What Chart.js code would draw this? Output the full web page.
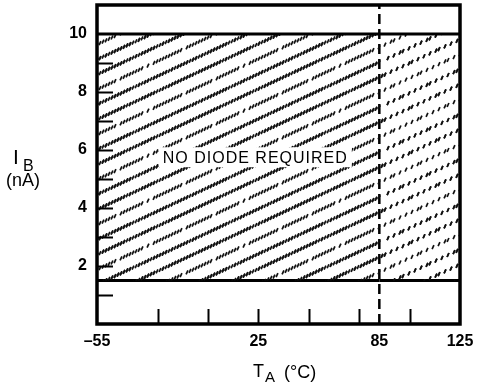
<!DOCTYPE html>
<html>
<head>
<meta charset="utf-8">
<script src="https://cdn.jsdelivr.net/npm/chart.js@4.4.1/dist/chart.umd.min.js"></script>
<style>
  html, body { margin: 0; padding: 0; background: #fff; }
  canvas { display: block; }
</style>
</head>
<body>
<canvas id="chart" width="477" height="387"></canvas>
<script>
// Ambient temperature span of the region (°C)
const tempSpan = [-55, 125];
// Temperature of the dashed boundary (°C)
const boundaryTemp = 85;
// Bias-current limits of the "no diode required" region (nA)
const biasUpper = 10;
const biasLower = 1.5;
// Axis ranges
const xRange = [-55, 125];
const yRange = [0, 11];
// Labelled ticks
const xTickLabels = [-55, 25, 85, 125];
const yTickLabels = [2, 4, 6, 8, 10];
// Unlabelled tick marks
const xMinorTicks = [-25, 0, 25, 50, 75, 100];
const yMinorTicks = [1, 2, 3, 4, 5, 6, 7, 8, 9];

const FONT = '"Liberation Sans", Arial, Helvetica, sans-serif';

// Diagonal hatch made of short slanted strokes laid along rising rows
function makeHatch(skip) {
  const W = 96, H = 45, rowGap = 15;
  const c = document.createElement('canvas');
  c.width = W; c.height = H;
  const g = c.getContext('2d');
  g.strokeStyle = '#111';
  g.lineWidth = 1.7;
  for (let k = -2; k <= 2; k++) {
    for (let i = 0; i < 32; i++) {
      if (skip(i, k)) continue;
      const x = i * 3 + 1;
      const y = H - x * H / W + k * rowGap;
      for (const dx of [-W, 0, W]) {
        for (const dy of [-H, 0, H]) {
          g.beginPath();
          g.moveTo(x + dx - 0.9, y + dy + 2.0);
          g.lineTo(x + dx + 0.9, y + dy - 2.0);
          g.stroke();
        }
      }
    }
  }
  return g.createPattern(c, 'repeat');
}

const hatchDense = makeHatch((i, k) => ((i + 3 * k + 20) % 11) === 5 || ((i * 7 + k * 5 + 40) % 19) === 0);
const hatchSparse = makeHatch((i, k) => ((i * 5 + k * 3 + 30) % 9) >= 5);

const edge = { borderColor: '#000', borderWidth: 3, pointRadius: 0, tension: 0 };

const datasets = [
  { ...edge, data: [{ x: tempSpan[0], y: biasUpper }, { x: boundaryTemp, y: biasUpper }], fill: '+1', backgroundColor: hatchDense },
  { ...edge, data: [{ x: tempSpan[0], y: biasLower }, { x: boundaryTemp, y: biasLower }], fill: false },
  { ...edge, data: [{ x: boundaryTemp, y: biasUpper }, { x: tempSpan[1], y: biasUpper }], fill: '+1', backgroundColor: hatchSparse },
  { ...edge, data: [{ x: boundaryTemp, y: biasLower }, { x: tempSpan[1], y: biasLower }], fill: false },
  { borderColor: '#000', borderWidth: 2.5, borderDash: [10, 5], pointRadius: 0, fill: false,
    data: [{ x: boundaryTemp, y: yRange[0] }, { x: boundaryTemp, y: yRange[1] }] }
];

// Frame, inward tick marks, region caption and axis titles
const framePlugin = {
  id: 'frame',
  afterDatasetsDraw(chart) {
    const { ctx, scales: { x, y } } = chart;
    ctx.save();
    ctx.font = '16px ' + FONT;
    ctx.letterSpacing = '1px';
    const text = 'NO DIODE REQUIRED';
    const w = ctx.measureText(text).width;
    const cx = x.getPixelForValue(23.5);
    const cy = y.getPixelForValue(5.75);
    ctx.fillStyle = '#fff';
    ctx.fillRect(cx - w / 2 - 4, cy - 10, w + 8, 20);
    ctx.fillStyle = '#000';
    ctx.textAlign = 'center';
    ctx.textBaseline = 'middle';
    ctx.fillText(text, cx, cy + 1);
    ctx.restore();
  },
  afterDraw(chart) {
    const { ctx, chartArea: a, scales: { x, y } } = chart;
    ctx.save();
    ctx.strokeStyle = '#000';
    ctx.lineWidth = 2;
    for (const v of yMinorTicks) {
      const py = Math.round(y.getPixelForValue(v)) + 0.5;
      ctx.beginPath(); ctx.moveTo(a.left, py); ctx.lineTo(a.left + 16, py); ctx.stroke();
    }
    for (const v of xMinorTicks) {
      const px = Math.round(x.getPixelForValue(v)) + 0.5;
      ctx.beginPath(); ctx.moveTo(px, a.bottom); ctx.lineTo(px, a.bottom - 15); ctx.stroke();
    }
    ctx.lineWidth = 3.5;
    ctx.strokeRect(a.left, a.top, a.right - a.left, a.bottom - a.top);

    ctx.fillStyle = '#000';
    ctx.textBaseline = 'alphabetic';
    ctx.textAlign = 'left';
    // y title: I_B (nA)
    ctx.font = '21px ' + FONT;
    ctx.fillText('I', 13, 164);
    ctx.font = '16px ' + FONT;
    ctx.fillText('B', 23, 171);
    ctx.font = '18px ' + FONT;
    ctx.fillText('(nA)', 6, 186);
    // x title: T_A (°C)
    ctx.font = '18px ' + FONT;
    ctx.fillText('T', 253, 377);
    ctx.font = '15px ' + FONT;
    ctx.fillText('A', 265, 382);
    ctx.font = '18px ' + FONT;
    ctx.fillText('(°C)', 284, 378);
    ctx.restore();
  }
};

function noEdgePadding(s) {
  s.paddingTop = 0; s.paddingBottom = 0; s.paddingLeft = 0; s.paddingRight = 0;
}

new Chart(document.getElementById('chart'), {
  type: 'line',
  data: { datasets },
  options: {
    responsive: false,
    animation: false,
    devicePixelRatio: 1,
    layout: { padding: { left: 0, right: 17, top: 5, bottom: 0 } },
    plugins: { legend: { display: false }, tooltip: { enabled: false } },
    scales: {
      x: {
        type: 'linear',
        min: xRange[0], max: xRange[1],
        border: { display: false },
        grid: { display: false, drawTicks: false },
        afterBuildTicks: s => { s.ticks = xTickLabels.map(v => ({ value: v })); },
        afterFit: s => { s.height = 63; noEdgePadding(s); },
        ticks: {
          padding: 8,
          color: '#000',
          font: { family: FONT, size: 16, weight: 'bold' },
          maxRotation: 0,
          autoSkip: false,
          callback: v => (v < 0 ? '\u2013' + Math.abs(v) : String(v))
        }
      },
      y: {
        type: 'linear',
        min: yRange[0], max: yRange[1],
        border: { display: false },
        grid: { display: false, drawTicks: false },
        afterBuildTicks: s => { s.ticks = yTickLabels.map(v => ({ value: v })); },
        afterFit: s => { s.width = 97; noEdgePadding(s); },
        ticks: {
          padding: 10,
          color: '#000',
          font: { family: FONT, size: 16, weight: 'bold' },
          callback: v => String(v)
        }
      }
    }
  },
  plugins: [framePlugin]
});
</script>
</body>
</html>
